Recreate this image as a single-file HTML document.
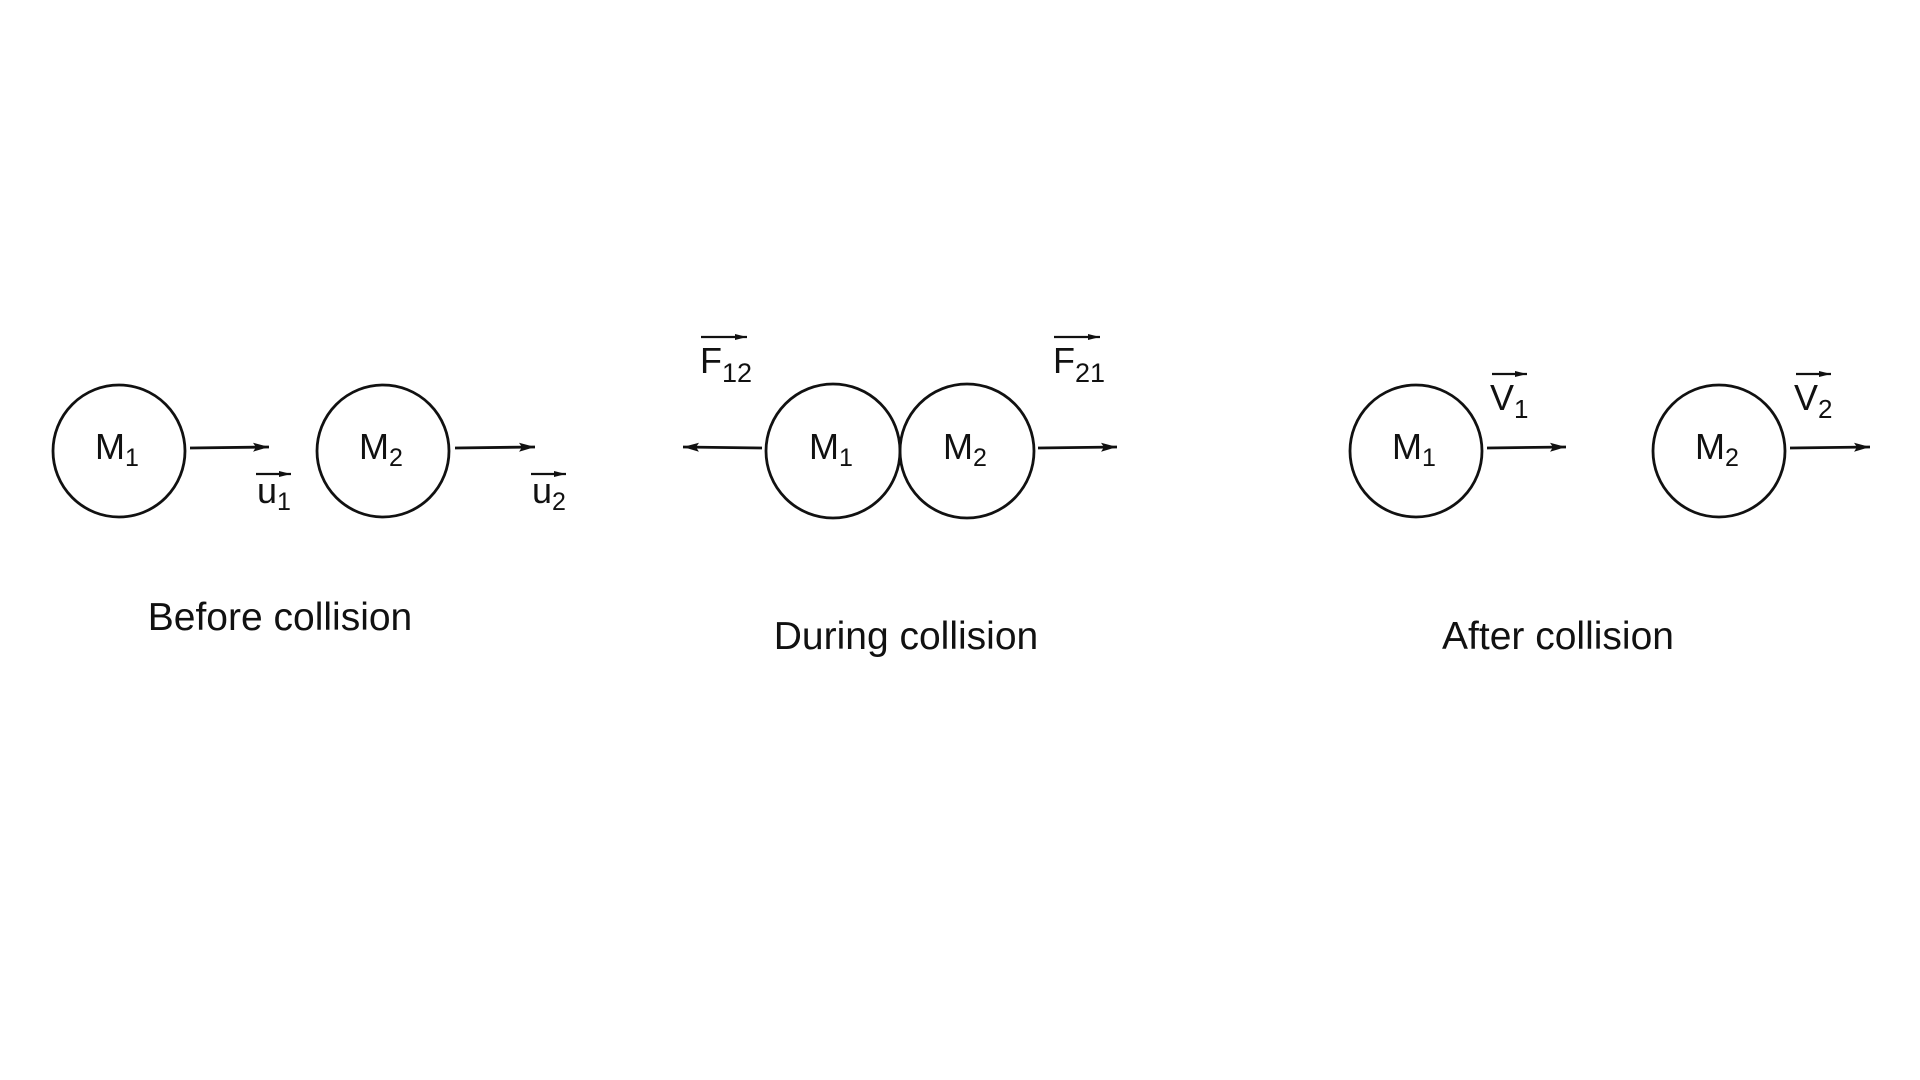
<!DOCTYPE html>
<html><head><meta charset="utf-8"><style>
html,body{margin:0;padding:0;background:#fff;}
svg{display:block;}
text{font-family:"Liberation Sans",Arial,sans-serif;fill:#111;}
</style></head><body>
<svg width="1920" height="1080" viewBox="0 0 1920 1080" xmlns="http://www.w3.org/2000/svg">
<defs>
<marker id="ah" markerWidth="16" markerHeight="10" refX="16" refY="5" orient="auto" markerUnits="userSpaceOnUse">
<path d="M0,0.5 L16,5 L0,9.5 L3,5 Z" fill="#111"/></marker>
<marker id="sh" markerWidth="12" markerHeight="7" refX="12" refY="3.5" orient="auto" markerUnits="userSpaceOnUse">
<path d="M0,0.5 L12,3.5 L0,6.5 Z" fill="#111"/></marker>
</defs>
<g fill="none" stroke="#111" stroke-width="2.8">
<circle cx="119" cy="451" r="66"/>
<circle cx="383" cy="451" r="66"/>
<circle cx="833" cy="451" r="67"/>
<circle cx="967" cy="451" r="67"/>
<circle cx="1416" cy="451" r="66"/>
<circle cx="1719" cy="451" r="66"/>
</g>
<g stroke="#111" stroke-width="2.8">
<line x1="190" y1="448" x2="269" y2="447" marker-end="url(#ah)"/>
<line x1="455" y1="448" x2="535" y2="447" marker-end="url(#ah)"/>
<line x1="762" y1="448" x2="683" y2="447" marker-end="url(#ah)"/>
<line x1="1038" y1="448" x2="1117" y2="447" marker-end="url(#ah)"/>
<line x1="1487" y1="448" x2="1566" y2="447" marker-end="url(#ah)"/>
<line x1="1790" y1="448" x2="1870" y2="447" marker-end="url(#ah)"/>
</g>
<g stroke="#111" stroke-width="2.2">
<line x1="256" y1="474" x2="291" y2="474" marker-end="url(#sh)"/>
<line x1="531" y1="474" x2="566" y2="474" marker-end="url(#sh)"/>
<line x1="701" y1="337" x2="747" y2="337" marker-end="url(#sh)"/>
<line x1="1054" y1="337" x2="1100" y2="337" marker-end="url(#sh)"/>
<line x1="1492" y1="374" x2="1527" y2="374" marker-end="url(#sh)"/>
<line x1="1796" y1="374" x2="1831" y2="374" marker-end="url(#sh)"/>
</g>
<g font-size="36">
<text x="95" y="459">M<tspan font-size="25" dy="7">1</tspan></text>
<text x="359" y="459">M<tspan font-size="25" dy="7">2</tspan></text>
<text x="809" y="459">M<tspan font-size="25" dy="7">1</tspan></text>
<text x="943" y="459">M<tspan font-size="25" dy="7">2</tspan></text>
<text x="1392" y="459">M<tspan font-size="25" dy="7">1</tspan></text>
<text x="1695" y="459">M<tspan font-size="25" dy="7">2</tspan></text>
<text x="257" y="503">u<tspan font-size="25" dy="7">1</tspan></text>
<text x="532" y="503">u<tspan font-size="25" dy="7">2</tspan></text>
<text x="700" y="373">F<tspan font-size="27" dy="9">12</tspan></text>
<text x="1053" y="373">F<tspan font-size="27" dy="9">21</tspan></text>
<text x="1490" y="410">V<tspan font-size="26" dy="8">1</tspan></text>
<text x="1794" y="410">V<tspan font-size="26" dy="8">2</tspan></text>
</g>
<g font-size="39" text-anchor="middle">
<text x="280" y="630">Before collision</text>
<text x="906" y="649">During collision</text>
<text x="1558" y="649">After collision</text>
</g>
</svg>
</body></html>
